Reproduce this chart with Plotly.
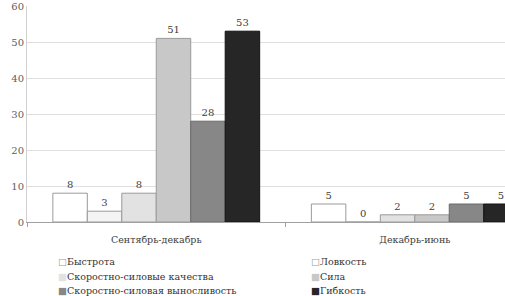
import plotly.graph_objects as go

categories = ["Сентябрь-декабрь", "Декабрь-июнь"]
series_names = ["Быстрота", "Ловкость", "Скоростно-силовые качества", "Сила",
                "Скоростно-силовая выносливость", "Гибкость"]
series_values = [
    [8, 5],
    [3, 0],
    [8, 2],
    [51, 2],
    [28, 5],
    [53, 5],
]
y_ticks = [0, 10, 20, 30, 40, 50, 60]

fills = ["#ffffff", "#f4f4f4", "#e2e2e2", "#c8c8c8", "#878787", "#262626"]
lines = ["#9a9a9a", "#9a9a9a", "#9a9a9a", "#9a9a9a", "#6a6a6a", "#111111"]

FONT = "DejaVu Serif"
fig = go.Figure()
for name, vals, fc, lc in zip(series_names, series_values, fills, lines):
    fig.add_trace(go.Bar(
        name=name, x=categories, y=vals, showlegend=False,
        marker=dict(color=fc, line=dict(color=lc, width=1)),
        text=[str(v) for v in vals], textposition="outside",
        textfont=dict(family=FONT, size=10, color="#404040"),
        cliponaxis=False,
    ))

# legend drawn as text entries in two columns (reference has tight 14px rows)
for i, (name, fc, lc) in enumerate(zip(series_names, fills, lines)):
    col, row = i % 2, i // 2
    glyph = "□" if fc in ("#ffffff", "#f4f4f4") else "■"
    gcol = lc if glyph == "□" else fc
    fig.add_annotation(
        xref="paper", yref="paper",
        x=0.06 + col * 0.53, y=-0.185 - row * 0.065,
        xanchor="left", yanchor="middle", showarrow=False,
        text=f"<span style='color:{gcol}'>{glyph}</span>{name}",
        font=dict(family=FONT, size=9.5, color="#333333"),
    )

fig.update_layout(
    width=505, height=296,
    margin=dict(l=27, r=0, t=6, b=74, autoexpand=False),
    paper_bgcolor="white", plot_bgcolor="white",
    barmode="group", bargap=0.2, bargroupgap=0,
    font=dict(family=FONT, size=10, color="#404040"),
    showlegend=False,
)
fig.update_xaxes(
    type="category", range=[-0.5, 1.349],
    showline=True, linecolor="#a0a0a0", linewidth=1,
    ticks="outside", tickson="boundaries", ticklen=4, tickcolor="#a0a0a0",
    ticklabelstandoff=9,
    tickfont=dict(family=FONT, size=9.5, color="#404040"),
    showgrid=False,
)
fig.update_yaxes(
    range=[0, 60], tickvals=y_ticks,
    showgrid=True, gridcolor="#e0e0e0", gridwidth=1,
    showline=True, linecolor="#d0d0d0",
    ticks="", zeroline=False,
    tickfont=dict(family=FONT, size=10, color="#606060"),
)
fig.write_html("out.html", config={"displayModeBar": False},
               post_script="document.body.style.margin='0';")
